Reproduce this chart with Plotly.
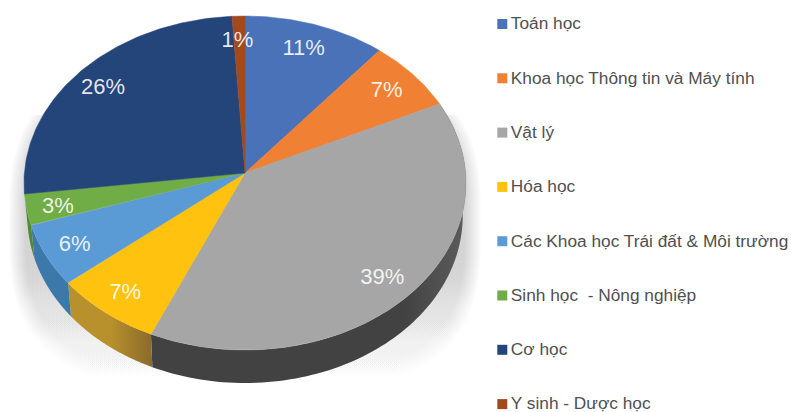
import numpy as np
import plotly.graph_objects as go

categories = ["Toán học", "Khoa học Thông tin và Máy tính", "Vật lý", "Hóa học",
              "Các Khoa học Trái đất & Môi trường", "Sinh học  - Nông nghiệp", "Cơ học", "Y sinh - Dược học"]
values = [11, 7, 38.6, 7.4, 6, 3, 26, 1]
colors = ["#4a72b8", "#f08033", "#a6a6a6", "#ffc20e", "#5b9bd5", "#70ad47", "#24457a", "#a24a1f"]
side_left = ["#4a72b8", "#f08033", "#5c5c5c", "#b8902c", "#3c78aa", "#4f8a3a", "#24457a", "#a24a1f"]
side_right = ["#4a72b8", "#f08033", "#424242", "#8a6a2c", "#3c78aa", "#4f8a3a", "#24457a", "#a24a1f"]

CX, CY, R, RY, K, DEPTH = 245, 173, 220.6, 166.4, 0.06, 33
LEG_X, LEG_Y0, LEG_STEP = 502.3, 24, 54.3


def project(frac, r=1.0):
    a = 2 * np.pi * np.asarray(frac)
    u, v = r * np.sin(a), -r * np.cos(a)
    w = 1 - K * v
    return CX + R * u / w, CY + RY * v / w


fig = go.Figure()

# soft shadow below the pie
t = np.linspace(0, 2 * np.pi, 400)
for e in np.linspace(16, 0, 14):
    xs = CX + (220 + e) * np.sign(np.cos(t)) * np.abs(np.cos(t)) ** (2 / 3)
    ys = np.clip(225 + (155 + e) * np.sign(np.sin(t)) * np.abs(np.sin(t)) ** (2 / 3), 115, 395)
    fig.add_trace(go.Scatter(x=xs, y=ys, mode="none", fill="toself", hoverinfo="skip", showlegend=False,
                             fillgradient=dict(type="vertical", colorscale=[
                                 [0, "rgba(0,0,0,0)"], [0.45, "rgba(0,0,0,0.014)"], [1, "rgba(0,0,0,0.014)"]])))

edges = np.cumsum([0] + values) / sum(values)

# rim: only the front part shows, the top faces cover the rest
for i in [2, 3, 4, 5]:
    f = np.linspace(edges[i], edges[i + 1], 100)
    x, y = project(f)
    xl = CX + (x - CX) * 0.985
    xs = np.r_[x, xl[::-1], x[0]]
    ys = np.r_[y, y[::-1] + DEPTH, y[0]]
    fig.add_trace(go.Scatter(x=xs, y=ys, mode="none", fill="toself", hoverinfo="skip", showlegend=False,
                             fillgradient=dict(type="horizontal", colorscale=[
                                 [0, side_right[i] if i == 2 else side_left[i]],
                                 [0.8, side_right[i]] if i == 2 else [0.5, side_left[i]],
                                 [1, side_left[i] if i == 2 else side_right[i]]])))

# top faces
for i, name in enumerate(categories):
    f = np.linspace(edges[i], edges[i + 1], 100)
    x, y = project(f)
    fig.add_trace(go.Scatter(x=np.r_[CX, x, CX], y=np.r_[CY, y, CY], mode="lines", fill="toself",
                             fillcolor=colors[i], line=dict(color=colors[i], width=0.5),
                             name=name, hoverinfo="name", showlegend=False))

# value labels
mid = (edges[:-1] + edges[1:]) / 2
lx, ly = project(mid, 0.85)
fig.add_trace(go.Scatter(x=lx - 2, y=ly + 3, mode="text", text=[f"{round(v)}%" for v in values],
                         textfont=dict(family="Liberation Sans", size=22, color="rgba(255,255,255,0.88)"),
                         hoverinfo="skip", showlegend=False))

# key
key_y = [LEG_Y0 + LEG_STEP * i for i in range(len(categories))]
fig.add_trace(go.Scatter(x=[LEG_X] * len(categories), y=key_y, mode="markers",
                         marker=dict(symbol="square", size=10, color=colors),
                         hoverinfo="skip", showlegend=False))
fig.add_trace(go.Scatter(x=[LEG_X + 8.5] * len(categories), y=[v + 1 for v in key_y],
                         mode="text", text=categories, textposition="middle right", cliponaxis=False,
                         textfont=dict(family="Liberation Sans", size=17.3, color="#505050"),
                         hoverinfo="skip", showlegend=False))

fig.update_layout(width=791, height=412, margin=dict(l=0, r=0, t=0, b=0), autosize=False,
                  plot_bgcolor="white", paper_bgcolor="white", showlegend=False,
                  xaxis=dict(range=[0, 791], visible=False, fixedrange=True),
                  yaxis=dict(range=[412, 0], visible=False, fixedrange=True))
fig.write_html("out.html", config={"displayModeBar": False},
               post_script="document.body.style.margin='0';document.documentElement.style.overflow='hidden';")
